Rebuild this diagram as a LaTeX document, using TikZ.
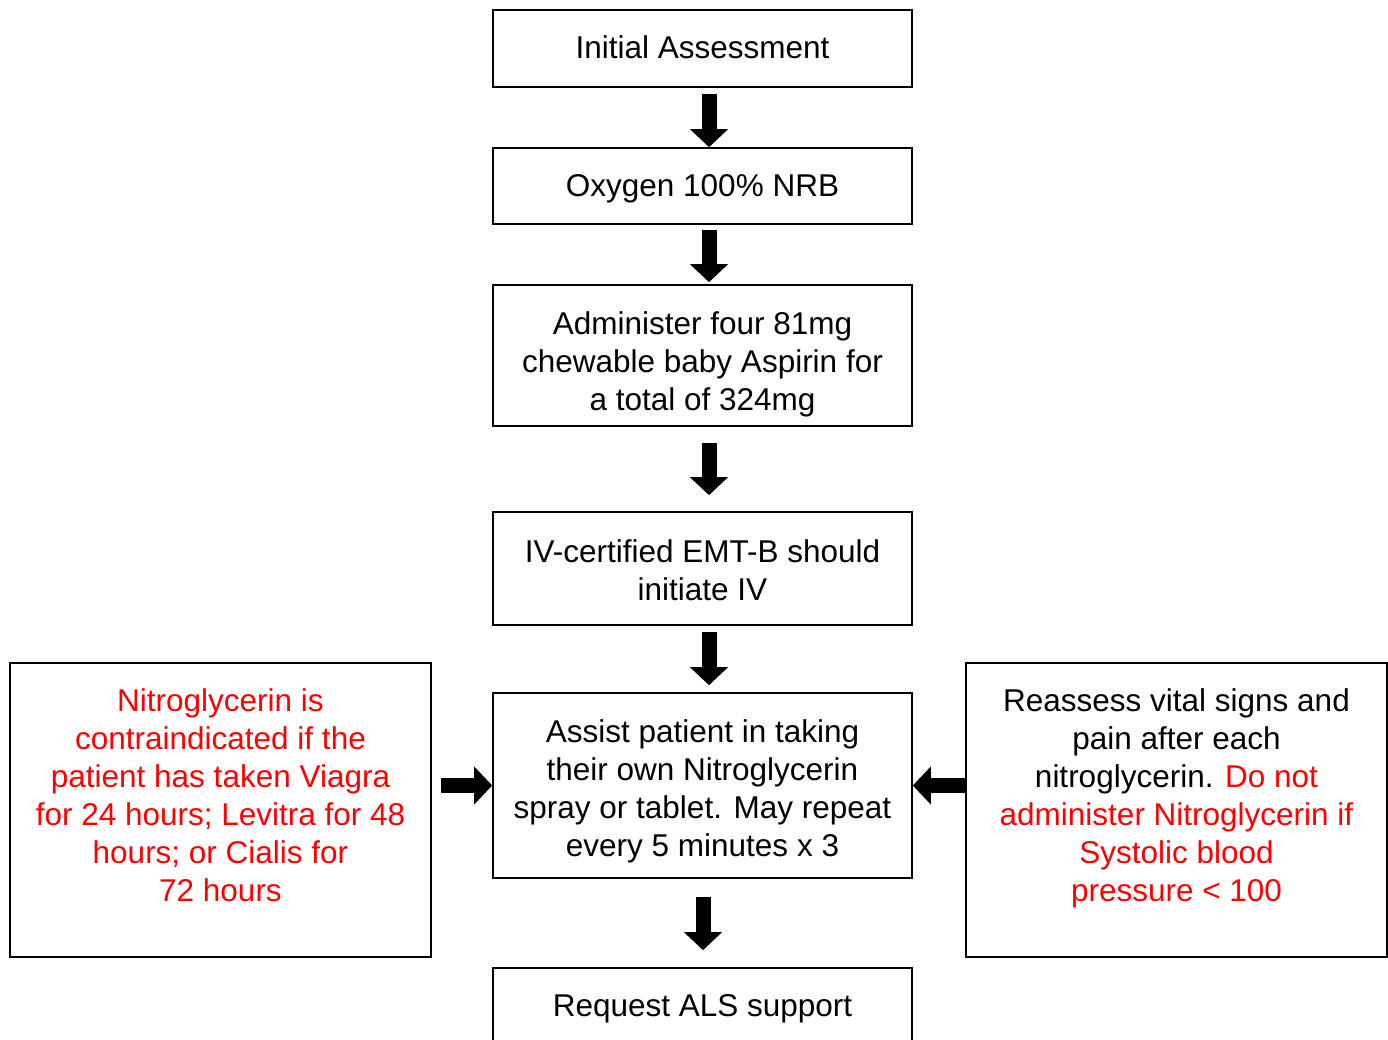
\documentclass[tikz,border=0pt]{standalone}
\usepackage{fontspec}
\setmainfont{Liberation Sans}
\usetikzlibrary{arrows.meta,calc}
\definecolor{alert}{RGB}{255,0,0}
\tikzset{
  box/.style={draw=black, line width=1.6pt, inner sep=0pt, minimum width=419pt},
  txt/.style={inner sep=0pt, align=center, font=\fontsize{31.5}{38}\selectfont},
  bigarrow/.style={line width=15pt, -{Triangle[width=37pt,length=18pt]}}
}
\begin{document}
\begin{tikzpicture}[x=1pt,y=-1pt]
\useasboundingbox (0,0) rectangle (1388,1040);
\clip (0,0) rectangle (1388,1040);
% boxes
\node[box, minimum height=77pt] (n1) at (702.5,48.5) {};
\node[box, minimum height=76pt] (n2) at (702.5,186) {};
\node[box, minimum height=141pt] (n3) at (702.5,355.5) {};
\node[box, minimum height=113pt] (n4) at (702.5,568.5) {};
\node[box, minimum height=185pt] (n5) at (702.5,785.5) {};
\node[box, minimum height=76pt] (n6) at (702.5,1006) {};
\node[box, minimum width=421pt, minimum height=294pt] (left) at (220.5,810) {};
\node[box, minimum width=421pt, minimum height=294pt] (right) at (1176.5,810) {};
% texts
\node[txt] (t1) at ($(n1.center)+(0,-1)$) {Initial Assessment};
\node[txt] (t2) at ($(n2.center)+(0,3)$) {Oxygen 100\% NRB};
\node[txt] (t3) at ($(n3.center)+(0,9)$) {Administer four 81mg\\chewable baby Aspirin for\\a total of 324mg};
\node[txt] (t4) at ($(n4.center)+(0,2)$) {IV-certified EMT-B should\\initiate IV};
\node[txt] (t5) at ($(n5.center)+(0,6)$) {Assist patient in taking\\their own Nitroglycerin\\spray or tablet. May repeat\\every 5 minutes x 3};
\node[txt] (t6) at ($(n6.center)+(0,3)$) {Request ALS support};
\node[txt, text=alert] (lefttxt) at ($(left.center)+(0,-15)$) {Nitroglycerin is\\contraindicated if the\\patient has taken Viagra\\for 24 hours; Levitra for 48\\hours; or Cialis for\\72 hours};
\node[txt] (righttxt) at ($(right.center)+(0,-12)$) {Reassess vital signs and\\pain after each\\nitroglycerin. \textcolor{alert}{Do not}\\\textcolor{alert}{administer Nitroglycerin if}\\\textcolor{alert}{Systolic blood}\\\textcolor{alert}{pressure < 100}};
% arrows
\draw[bigarrow] ($(n1.south)+(6.5,6)$) -- ($(n2.north)+(6.5,0)$);
\draw[bigarrow] ($(n2.south)+(6.5,5)$) -- ($(n3.north)+(6.5,-2)$);
\draw[bigarrow] ($(n3.south)+(6.5,16)$) -- ($(n4.north)+(6.5,-16)$);
\draw[bigarrow] ($(n4.south)+(6.5,6)$) -- ($(n5.north)+(6.5,-7)$);
\draw[bigarrow] ($(n5.south)+(0.5,18)$) -- ($(n6.north)+(0.5,-17)$);
\draw[bigarrow] ($(left.east)+(9,-24.5)$) -- (n5.west);
\draw[bigarrow] ($(right.west)+(0,-24.5)$) -- (n5.east);
\end{tikzpicture}
\end{document}
